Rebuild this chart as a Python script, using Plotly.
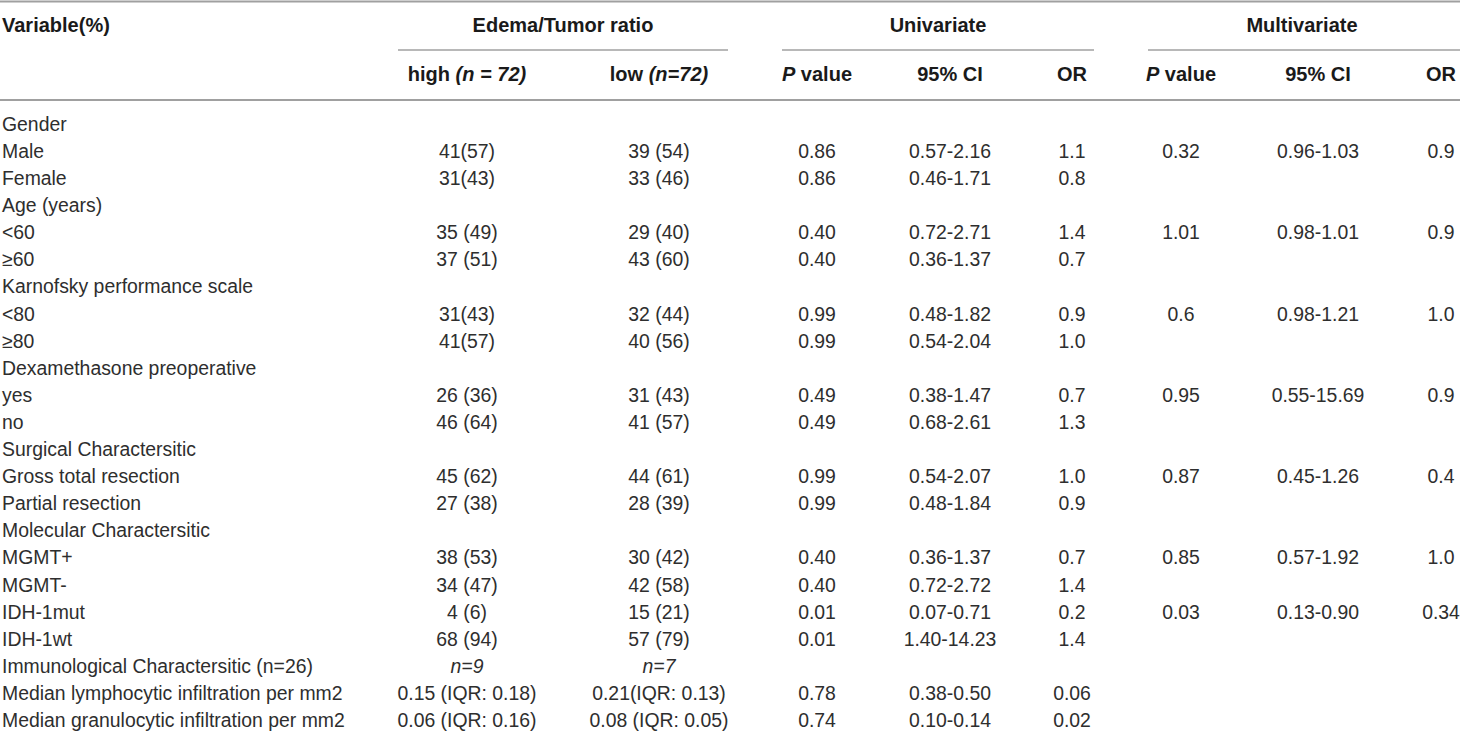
import plotly.graph_objects as go

W, H = 1460, 742

variables = [
    "Gender", "Male", "Female", "Age (years)", "<60", "≥60",
    "Karnofsky performance scale", "<80", "≥80",
    "Dexamethasone preoperative", "yes", "no",
    "Surgical Charactersitic", "Gross total resection", "Partial resection",
    "Molecular Charactersitic", "MGMT+", "MGMT-", "IDH-1mut", "IDH-1wt",
    "Immunological Charactersitic (n=26)",
    "Median lymphocytic infiltration per mm2",
    "Median granulocytic infiltration per mm2",
]
high = ["", "41(57)", "31(43)", "", "35 (49)", "37 (51)", "", "31(43)", "41(57)",
        "", "26 (36)", "46 (64)", "", "45 (62)", "27 (38)", "", "38 (53)", "34 (47)",
        "4 (6)", "68 (94)", "<i>n=9</i>", "0.15 (IQR: 0.18)", "0.06 (IQR: 0.16)"]
low = ["", "39 (54)", "33 (46)", "", "29 (40)", "43 (60)", "", "32 (44)", "40 (56)",
       "", "31 (43)", "41 (57)", "", "44 (61)", "28 (39)", "", "30 (42)", "42 (58)",
       "15 (21)", "57 (79)", "<i>n=7</i>", "0.21(IQR: 0.13)", "0.08 (IQR: 0.05)"]
uni_p = ["", "0.86", "0.86", "", "0.40", "0.40", "", "0.99", "0.99", "", "0.49", "0.49",
         "", "0.99", "0.99", "", "0.40", "0.40", "0.01", "0.01", "", "0.78", "0.74"]
uni_ci = ["", "0.57-2.16", "0.46-1.71", "", "0.72-2.71", "0.36-1.37", "", "0.48-1.82",
          "0.54-2.04", "", "0.38-1.47", "0.68-2.61", "", "0.54-2.07", "0.48-1.84", "",
          "0.36-1.37", "0.72-2.72", "0.07-0.71", "1.40-14.23", "", "0.38-0.50", "0.10-0.14"]
uni_or = ["", "1.1", "0.8", "", "1.4", "0.7", "", "0.9", "1.0", "", "0.7", "1.3",
          "", "1.0", "0.9", "", "0.7", "1.4", "0.2", "1.4", "", "0.06", "0.02"]
multi_p = ["", "0.32", "", "", "1.01", "", "", "0.6", "", "", "0.95", "", "",
           "0.87", "", "", "0.85", "", "0.03", "", "", "", ""]
multi_ci = ["", "0.96-1.03", "", "", "0.98-1.01", "", "", "0.98-1.21", "", "",
            "0.55-15.69", "", "", "0.45-1.26", "", "", "0.57-1.92", "", "0.13-0.90",
            "", "", "", ""]
multi_or = ["", "0.9", "", "", "0.9", "", "", "1.0", "", "", "0.9", "", "",
            "0.4", "", "", "1.0", "", "0.34", "", "", "", ""]

group_headers = ["Edema/Tumor ratio", "Univariate", "Multivariate"]
sub_headers = ["high <i>(n = 72)</i>", "low <i>(n=72)</i>", "<i>P</i> value", "95% CI", "OR",
               "<i>P</i> value", "95% CI", "OR"]

# layout
BODY = dict(family="Liberation Sans, Arial, sans-serif", size=19.4, color="#2e2e2e")
HEAD = dict(family="Liberation Sans, Arial, sans-serif", size=20, color="#1a1a1a")
LINE = "#a0a0a0"
col_x = [467, 659, 817, 950, 1072, 1181, 1318, 1441]
group_x = [563, 938, 1302]
group_span = [(398, 728), (782, 1094), (1148, 1460)]
y_head1, y_span, y_head2 = 27, 50, 76
y0, dy = 126, 27.1

rows_y = [y0 + i * dy for i in range(len(variables))]
body_cols = [high, low, uni_p, uni_ci, uni_or, multi_p, multi_ci, multi_or]

fig = go.Figure()

# first column, left aligned
fig.add_trace(go.Scatter(
    x=[2] * len(variables), y=rows_y, text=variables,
    mode="text", textposition="middle right", textfont=BODY,
    hoverinfo="skip", showlegend=False,
))
for cx, col in zip(col_x, body_cols):
    fig.add_trace(go.Scatter(
        x=[cx] * len(col), y=rows_y, text=col,
        mode="text", textposition="middle center", textfont=BODY,
        hoverinfo="skip", showlegend=False,
    ))

# headers
fig.add_trace(go.Scatter(
    x=[2], y=[y_head1], text=["<b>Variable(%)</b>"],
    mode="text", textposition="middle right", textfont=HEAD,
    hoverinfo="skip", showlegend=False,
))
fig.add_trace(go.Scatter(
    x=group_x, y=[y_head1] * 3, text=[f"<b>{g}</b>" for g in group_headers],
    mode="text", textposition="middle center", textfont=HEAD,
    hoverinfo="skip", showlegend=False,
))
fig.add_trace(go.Scatter(
    x=col_x, y=[y_head2] * len(col_x), text=[f"<b>{s}</b>" for s in sub_headers],
    mode="text", textposition="middle center", textfont=HEAD,
    hoverinfo="skip", showlegend=False,
))

shapes = [
    dict(type="line", x0=0, x1=W, y0=1.5, y1=1.5, line=dict(color=LINE, width=2)),
    dict(type="line", x0=0, x1=W, y0=100, y1=100, line=dict(color=LINE, width=2)),
]
for a, b in group_span:
    shapes.append(dict(type="line", x0=a, x1=b, y0=y_span, y1=y_span,
                       line=dict(color=LINE, width=1.5)))

fig.update_layout(
    width=W, height=H,
    margin=dict(l=0, r=0, t=0, b=0),
    paper_bgcolor="white", plot_bgcolor="white",
    shapes=shapes,
    xaxis=dict(range=[0, W], visible=False, fixedrange=True),
    yaxis=dict(range=[H, 0], visible=False, fixedrange=True),
)

fig.write_html("out.html", config={"displayModeBar": False},
               post_script="document.body.style.margin='0';")
